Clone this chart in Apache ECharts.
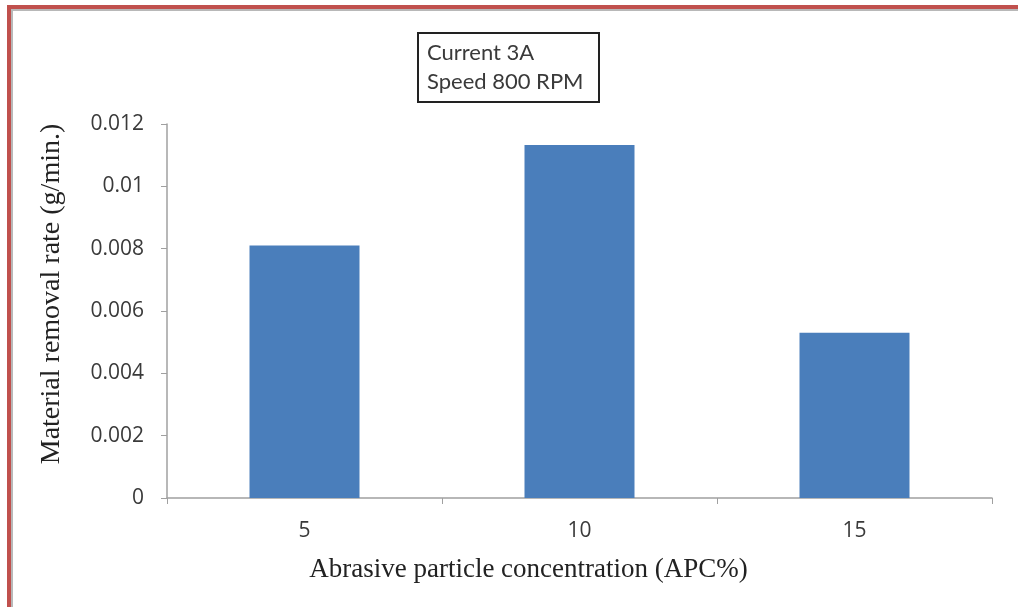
<!DOCTYPE html>
<html>
<head>
<meta charset="utf-8">
<script src="https://cdn.jsdelivr.net/npm/echarts@6/dist/echarts.min.js"></script>
<style>
  html, body { margin: 0; padding: 0; background: #fff; }
  #chart { width: 1018px; height: 607px; }
</style>
</head>
<body>
<div id="chart"></div>
<script>
// Abrasive particle concentration (APC %) on the x axis
const categories = ['5', '10', '15'];
// Material removal rate in g/min
const removalRate = [0.0081, 0.01133, 0.0053];
const conditionLines = ['Current 3A', 'Speed 800 RPM'];

const chart = echarts.init(document.getElementById('chart'), null, { renderer: 'canvas' });

chart.setOption({
  animation: false,
  backgroundColor: '#ffffff',
  grid: { left: 167, right: 26, top: 124, bottom: 109 },
  xAxis: {
    type: 'category',
    data: categories,
    name: 'Abrasive particle concentration (APC%)',
    nameLocation: 'middle',
    nameGap: 58,
    nameTextStyle: {
      fontFamily: 'Liberation Serif', fontSize: 27, color: '#222',
      padding: [0, 102, 0, 0]
    },
    axisLine: { lineStyle: { color: '#a0a0a0', width: 1.5 } },
    axisTick: { show: true, length: 6, lineStyle: { color: '#a0a0a0' } },
    axisLabel: { fontFamily: 'Open Sans', fontSize: 21, color: '#3a3a3a', margin: 23 }
  },
  yAxis: {
    type: 'value',
    min: 0,
    max: 0.012,
    interval: 0.002,
    name: 'Material removal rate (g/min.)',
    nameLocation: 'middle',
    nameGap: 101,
    nameTextStyle: {
      fontFamily: 'Liberation Serif', fontSize: 28, color: '#222',
      padding: [0, 0, 0, 34]
    },
    axisLine: { show: true, lineStyle: { color: '#a0a0a0', width: 1.5 } },
    axisTick: { show: true, length: 6, lineStyle: { color: '#a0a0a0' } },
    splitLine: { show: false },
    axisLabel: {
      fontFamily: 'Open Sans', fontSize: 21, color: '#3a3a3a', margin: 23,
      formatter: v => String(Number(v.toFixed(4)))
    }
  },
  series: [{
    type: 'bar',
    data: removalRate,
    barWidth: '40%',
    itemStyle: { color: '#4a7ebb' }
  }],
  graphic: [
    // frame lines around the figure
    { type: 'rect', shape: { x: 7, y: 5, width: 1011, height: 4 }, style: { fill: '#c0504d' }, silent: true },
    { type: 'rect', shape: { x: 7, y: 5, width: 4, height: 602 }, style: { fill: '#c0504d' }, silent: true },
    { type: 'rect', shape: { x: 11, y: 9, width: 1007, height: 2 }, style: { fill: '#b8b8b8' }, silent: true },
    { type: 'rect', shape: { x: 11, y: 9, width: 2, height: 598 }, style: { fill: '#b8b8b8' }, silent: true },
    // operating conditions box
    {
      type: 'rect',
      shape: { x: 418, y: 33, width: 181, height: 69 },
      style: { fill: '#fff', stroke: '#222', lineWidth: 2 },
      silent: true
    },
    {
      type: 'text',
      left: 427, top: 38,
      style: {
        text: conditionLines.join('\n'),
        font: '22px Lato',
        lineHeight: 29,
        fill: '#3a3a3a'
      },
      silent: true
    }
  ]
});
</script>
</body>
</html>
